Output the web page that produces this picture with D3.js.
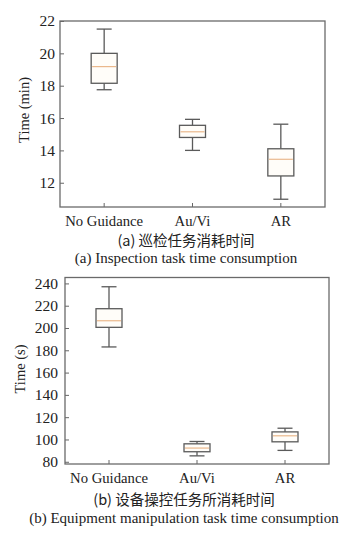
<!DOCTYPE html>
<html><head><meta charset="utf-8">
<script src="https://cdn.jsdelivr.net/npm/d3@7"></script>
<style>body{margin:0;background:#fff;} svg{display:block;}</style>
</head><body>
<svg id="c" width="364" height="538"></svg>
<script>
const categories = ["No Guidance", "Au/Vi", "AR"];
// chart (a): [low whisker, Q1, median, Q3, high whisker]
const inspectionStats = [
  [17.75, 18.15, 19.18, 20.0, 21.5],
  [14.0, 14.8, 15.15, 15.55, 15.92],
  [10.98, 12.42, 13.45, 14.1, 15.62]
];
const inspectionTicks = [12, 14, 16, 18, 20, 22];
// chart (b)
const manipulationStats = [
  [183, 200.6, 206.5, 217.3, 237],
  [85.3, 89, 92.3, 96.1, 98.2],
  [90.2, 97.9, 103.3, 106.8, 110.1]
];
const manipulationTicks = [80, 100, 120, 140, 160, 180, 200, 220, 240];

const svg = d3.select("#c");
const serif = "'Liberation Serif','Times New Roman',serif";
const cjk = "'Noto Sans CJK SC',sans-serif";

function drawPanel(o) {
  const g = svg.append("g");
  const x = d3.scaleBand().domain(categories).range([o.left, o.right]);
  const y = d3.scaleLinear().domain(o.domain).range([o.bottom, o.top]);
  // y axis (ticks inward)
  const ya = g.append("g").attr("transform", `translate(${o.left},0)`)
    .call(d3.axisLeft(y).tickValues(o.ticks).tickSize(-4).tickPadding(o.tickPad).tickFormat(d3.format("d")));
  ya.select(".domain").remove();
  ya.selectAll("line").attr("stroke", "#666").attr("stroke-width", 1);
  ya.selectAll("text").attr("font-family", serif).attr("font-size", 15.5).attr("fill", "#222");
  // x axis
  const xa = g.append("g").attr("transform", `translate(0,${o.bottom})`)
    .call(d3.axisBottom(x).tickSize(-4).tickPadding(8.5));
  xa.select(".domain").remove();
  xa.selectAll("line").attr("stroke", "#666").attr("stroke-width", 1);
  xa.selectAll("text").attr("font-family", serif).attr("font-size", 14.7).attr("fill", "#222");
  // frame
  g.append("rect").attr("x", o.left).attr("y", o.top)
    .attr("width", o.right - o.left).attr("height", o.bottom - o.top)
    .attr("fill", "none").attr("stroke", "#6a6a6a").attr("stroke-width", 1.3);
  // boxes
  const bw = 26, cw = 15;
  o.stats.forEach((s, i) => {
    const cx = x(categories[i]) + x.bandwidth() / 2;
    const bg = g.append("g").attr("stroke", "#5a5a5a").attr("stroke-width", 1.3);
    bg.append("line").attr("x1", cx).attr("x2", cx).attr("y1", y(s[4])).attr("y2", y(s[3]));
    bg.append("line").attr("x1", cx).attr("x2", cx).attr("y1", y(s[1])).attr("y2", y(s[0]));
    bg.append("line").attr("x1", cx - cw / 2).attr("x2", cx + cw / 2).attr("y1", y(s[4])).attr("y2", y(s[4]));
    bg.append("line").attr("x1", cx - cw / 2).attr("x2", cx + cw / 2).attr("y1", y(s[0])).attr("y2", y(s[0]));
    bg.append("rect").attr("x", cx - bw / 2).attr("width", bw)
      .attr("y", y(s[3])).attr("height", y(s[1]) - y(s[3])).attr("fill", "#fffdf9");
    g.append("line").attr("x1", cx - bw / 2 + 1).attr("x2", cx + bw / 2 - 1)
      .attr("y1", y(s[2])).attr("y2", y(s[2])).attr("stroke", "#eab88c").attr("stroke-width", 1.2);
  });
  // y label
  g.append("text").attr("transform", `translate(${o.ylabX},${o.ylabY}) rotate(-90)`)
    .attr("text-anchor", "middle").attr("font-family", serif).attr("font-size", 14.5)
    .attr("fill", "#222").text(o.ylabel);
  // captions
  g.append("text").attr("x", o.capX).attr("y", o.cap1Y).attr("text-anchor", "middle")
    .attr("font-family", cjk).attr("font-size", 14.5).attr("fill", "#222")
    .text(o.cap1);
  g.append("text").attr("x", o.capX).attr("y", o.cap2Y).attr("text-anchor", "middle")
    .attr("font-family", serif).attr("font-size", 15).attr("fill", "#222")
    .text(o.cap2);
}

drawPanel({left: 60, right: 325, top: 21, bottom: 207, domain: [10.5, 22],
  ticks: inspectionTicks, stats: inspectionStats, tickPad: 5, ylabX: 29, ylabY: 110, ylabel: "Time (min)",
  capX: 186, cap1Y: 246, cap2Y: 263,
  cap1: "(a) 巡检任务消耗时间", cap2: "(a) Inspection task time consumption"});

drawPanel({left: 65, right: 329, top: 277.5, bottom: 464, domain: [78, 245.3],
  ticks: manipulationTicks, stats: manipulationStats, tickPad: 7, ylabX: 25, ylabY: 369, ylabel: "Time (s)",
  capX: 184, cap1Y: 505, cap2Y: 523,
  cap1: "(b) 设备操控任务所消耗时间", cap2: "(b) Equipment manipulation task time consumption"});
</script>
</body></html>
